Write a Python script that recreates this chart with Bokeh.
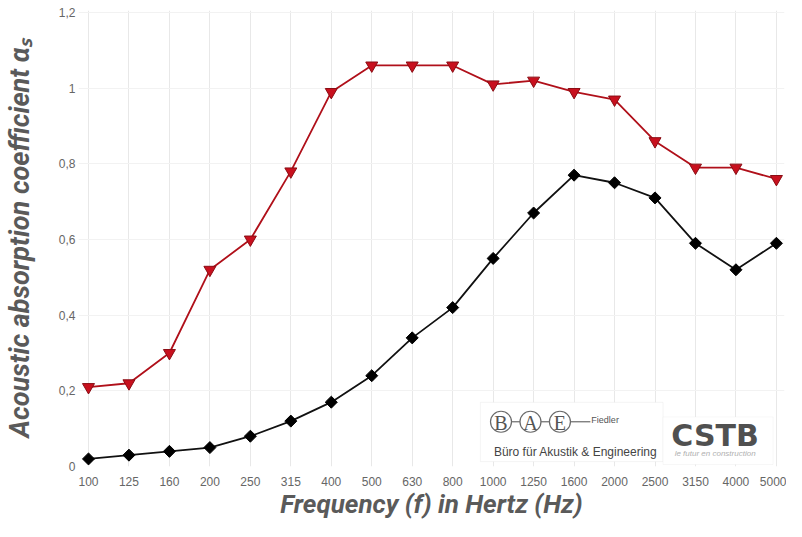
from bokeh.plotting import figure
from bokeh.models import Range1d, FixedTicker, Label, BoxAnnotation
from bokeh.embed import file_html
from bokeh.resources import INLINE

freqs = ["100", "125", "160", "200", "250", "315", "400", "500", "630", "800",
         "1000", "1250", "1600", "2000", "2500", "3150", "4000", "5000"]
alpha_red = [0.21, 0.22, 0.30, 0.52, 0.60, 0.78, 0.99, 1.06, 1.06, 1.06,
             1.01, 1.02, 0.99, 0.97, 0.86, 0.79, 0.79, 0.76]
alpha_black = [0.02, 0.03, 0.04, 0.05, 0.08, 0.12, 0.17, 0.24, 0.34, 0.42,
               0.55, 0.67, 0.77, 0.75, 0.71, 0.59, 0.52, 0.59]
y_ticks = [0, 0.2, 0.4, 0.6, 0.8, 1.0, 1.2]
y_tick_labels = ["0", "0,2", "0,4", "0,6", "0,8", "1", "1,2"]

idx = list(range(len(freqs)))

p = figure(width=786, height=521, output_backend="svg", toolbar_location=None,
           x_range=Range1d(-0.247, 17.2), y_range=Range1d(0, 1.2053),
           min_border_left=78, min_border_right=2, min_border_top=10, min_border_bottom=40)
p.outline_line_color = None
p.background_fill_color = "white"

# grid
p.xgrid.ticker = FixedTicker(ticks=idx)
p.ygrid.ticker = FixedTicker(ticks=y_ticks)
p.xgrid.grid_line_color = "#e8e8e8"
p.ygrid.grid_line_color = "#f2f2f2"

# axes
p.xaxis.ticker = FixedTicker(ticks=idx)
p.xaxis.major_label_overrides = {i: f for i, f in enumerate(freqs)}
p.yaxis.ticker = FixedTicker(ticks=y_ticks)
p.yaxis.major_label_overrides = {t: l for t, l in zip(y_ticks, y_tick_labels)}
for ax in (p.xaxis, p.yaxis):
    ax.axis_line_color = None
    ax.major_tick_line_color = None
    ax.minor_tick_line_color = None
    ax.major_tick_out = 0
    ax.major_tick_in = 0
    ax.major_label_text_font = "Liberation Sans"
    ax.major_label_text_font_size = "12px"
    ax.major_label_text_color = "#666666"
    ax.axis_label_text_font = "Roboto"
    ax.axis_label_text_font_style = "bold italic"
    ax.axis_label_text_color = "#5a5a5a"
p.xaxis.axis_label_text_font_size = "26px"
p.yaxis.axis_label_text_font_size = "27px"
p.xaxis.major_label_standoff = 10
p.yaxis.major_label_standoff = 3
p.xaxis.axis_label = "Frequency (f) in Hertz (Hz)"
p.yaxis.axis_label = "Acoustic absorption coefficient αₛ"
p.xaxis.axis_label_standoff = 0
p.yaxis.axis_label_standoff = 20

# series
p.line(idx, alpha_red, line_color="#b0101a", line_width=1.8)
p.scatter(idx, alpha_red, marker="inverted_triangle", size=12,
          fill_color="#c8101e", line_color="#8a0d14", line_width=1)
p.line(idx, alpha_black, line_color="#111111", line_width=1.8)
p.scatter(idx, alpha_black, marker="square", angle=0.7854, size=8.5,
          fill_color="#000000", line_color="#000000")

# helpers for the logo decorations (reference pixel -> data)
def px_x(v):
    return (v - 88) / 41.2

def px_y(v):
    return (479 - v) / 389.0

# BAE logo box
p.add_layout(BoxAnnotation(left=px_x(487), right=px_x(673), top=px_y(413), bottom=px_y(474),
                           fill_color="white", fill_alpha=1, line_color="#dcdcdc", line_width=1))
for cx, letter in ((508, "B"), (538, "A"), (568, "E")):
    p.add_layout(Label(x=px_x(cx), y=px_y(434), text=letter, text_font="Liberation Serif",
                       text_font_size="20px", text_color="#555555",
                       text_align="center", text_baseline="middle"))
circ = p.scatter([px_x(508), px_x(538), px_x(568)], [px_y(433)] * 3, marker="circle",
                 size=21, fill_color=None, line_color="#6a6a6a", line_width=1.2)
circ.level = "overlay"
seg = p.segment(x0=[px_x(518.5), px_x(548.5), px_x(578.5)], y0=[px_y(433)] * 3,
                x1=[px_x(527.5), px_x(557.5), px_x(599)], y1=[px_y(433)] * 3,
                line_color="#6a6a6a", line_width=1.2)
seg.level = "overlay"
p.add_layout(Label(x=px_x(600), y=px_y(431), text="Fiedler", text_font="Liberation Sans",
                   text_font_size="9px", text_color="#555555",
                   text_align="left", text_baseline="alphabetic"))
p.add_layout(Label(x=px_x(584), y=px_y(464), text="Büro für Akustik & Engineering",
                   text_font="Liberation Sans", text_font_size="12px", text_color="#444444",
                   text_align="center", text_baseline="middle"))

# CSTB logo box
p.add_layout(BoxAnnotation(left=px_x(673), right=px_x(785), top=px_y(428), bottom=px_y(477),
                           fill_color="white", fill_alpha=1, line_color="#e4e4e4", line_width=1))
p.add_layout(Label(x=px_x(726), y=px_y(447), text="CSTB", text_font="DejaVu Sans",
                   text_font_style="bold", text_font_size="30px", text_color="#505050",
                   text_align="center", text_baseline="middle"))
p.add_layout(Label(x=px_x(726), y=px_y(466), text="le futur en construction",
                   text_font="Liberation Sans", text_font_style="italic",
                   text_font_size="8px", text_color="#b0b0b0",
                   text_align="center", text_baseline="middle"))

open("out.html", "w").write(file_html(p, INLINE))
